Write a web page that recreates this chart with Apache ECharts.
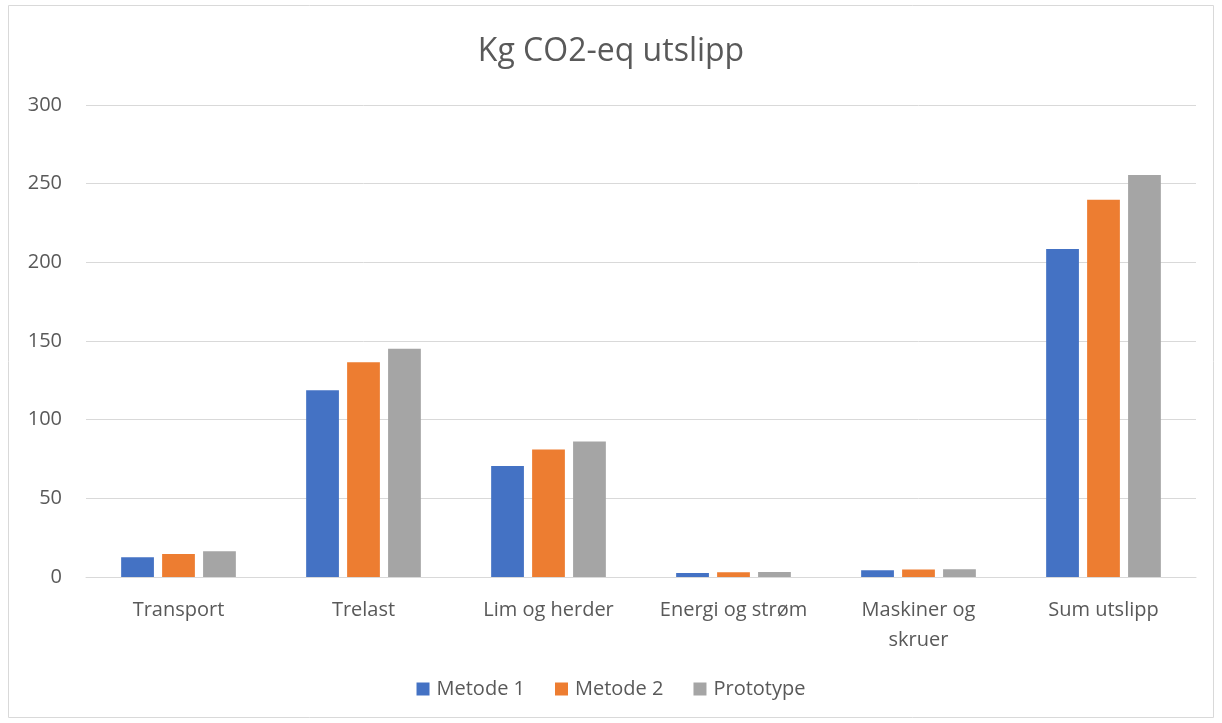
<!DOCTYPE html>
<html>
<head>
<meta charset="utf-8">
<script src="https://cdn.jsdelivr.net/npm/echarts@6/dist/echarts.min.js"></script>
<style>html,body{margin:0;padding:0;background:#fff;}#c{width:1222px;height:723px;}</style>
</head>
<body>
<div id="c"></div>
<script>
const categories = ["Transport", "Trelast", "Lim og herder", "Energi og strøm", "Maskiner og\nskruer", "Sum utslipp"];
const metode1 = [12.5, 118.7, 70.6, 2.5, 4.3, 208.5];
const metode2 = [14.6, 136.5, 81.0, 3.0, 4.7, 239.7];
const prototype = [16.3, 145.1, 86.2, 3.1, 4.9, 255.5];
const yTicks = [0, 50, 100, 150, 200, 250, 300];

const chart = echarts.init(document.getElementById('c'));
const font = '"Open Sans", Lato, sans-serif';
chart.setOption({
  animation: false,
  textStyle: { fontFamily: font },
  graphic: [{ type: 'rect', shape: { x: 8.5, y: 5.5, width: 1205, height: 712 }, style: { fill: null, stroke: '#d9d9d9', lineWidth: 1 }, silent: true }],
  title: { text: 'Kg CO2-eq utslipp', left: 'center', top: 31, textStyle: { fontFamily: font, fontSize: 32, fontWeight: 'normal', color: '#595959' } },
  legend: { bottom: 19, left: 'center', itemWidth: 13, itemHeight: 13, itemGap: 30, icon: 'rect', textStyle: { fontFamily: font, fontSize: 20, color: '#595959', padding: [0, 0, 0, 2] }, data: ['Metode 1', 'Metode 2', 'Prototype'] },
  grid: { left: 86, right: 26, top: 105, bottom: 146, containLabel: false },
  xAxis: { type: 'category', data: categories, axisLine: { lineStyle: { color: '#d9d9d9', width: 1 } }, axisTick: { show: false }, axisLabel: { fontFamily: font, fontSize: 20, color: '#595959', margin: 18, interval: 0, lineHeight: 30 } },
  yAxis: { type: 'value', min: yTicks[0], max: yTicks[yTicks.length - 1], interval: 50, axisLine: { show: false }, axisTick: { show: false }, splitLine: { lineStyle: { color: '#d9d9d9', width: 1 } }, axisLabel: { fontFamily: font, fontSize: 20, color: '#595959', margin: 24 } },
  series: [
    { name: 'Metode 1', type: 'bar', data: metode1, itemStyle: { color: '#4472c4' }, barGap: '25%', barCategoryGap: '38%' },
    { name: 'Metode 2', type: 'bar', data: metode2, itemStyle: { color: '#ed7d31' } },
    { name: 'Prototype', type: 'bar', data: prototype, itemStyle: { color: '#a5a5a5' } }
  ]
});
</script>
</body>
</html>
